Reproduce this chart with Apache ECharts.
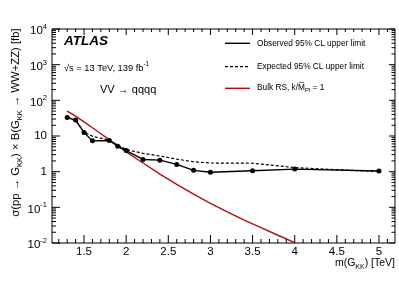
<!DOCTYPE html>
<html>
<head>
<meta charset="utf-8">
<script src="https://cdn.jsdelivr.net/npm/echarts@6/dist/echarts.min.js"></script>
<style>
html,body{margin:0;padding:0;background:#fff;}
#chart{width:399px;height:286px;}
</style>
</head>
<body>
<div id="chart"></div>
<script>
// ---- data ----
const massLimit = [1.3, 1.4, 1.5, 1.6, 1.8, 1.9, 2.0, 2.2, 2.4, 2.6, 2.8, 3.0, 3.5, 4.0, 5.0];
const observed  = [33, 28, 12.6, 7.3, 7.5, 5.2, 3.9, 2.2, 2.1, 1.6, 1.09, 0.96, 1.06, 1.18, 1.04];
const expected  = [33, 27, 13, 9.8, 7.6, 5.6, 4.2, 3.25, 2.75, 2.25, 1.9, 1.75, 1.72, 1.3, 1.0];
const massTheory = [1.3, 1.4, 1.5, 1.6, 1.7, 1.8, 1.9, 2.0, 2.2, 2.4, 2.6, 2.8, 3.0, 3.2, 3.4, 3.6, 3.8, 4.0];
const theory     = [50, 36, 25, 17, 11.6, 7.9, 5.3, 3.6, 1.75, 0.85, 0.44, 0.235, 0.13, 0.075, 0.044, 0.027, 0.0165, 0.0102];
const xTickLabels = [1.5, 2, 2.5, 3, 3.5, 4, 4.5, 5];
const yDecades = [-2, -1, 0, 1, 2, 3, 4];
const legendLabels = ['Observed 95% CL upper limit', 'Expected 95% CL upper limit', '{t|Bulk RS, k/M\u0305}{sub|Pl}{t| = 1}'];

const FONT = 'Liberation Sans, Arial, Helvetica, sans-serif';
const X_MIN = 1.12, X_MAX = 5.19, Y_MIN = 0.01, Y_MAX = 10000;
const RED = '#b40f0f';

// tick positions (styling only)
const xTickPos = [];
for (let i = 12; i <= 51; i++) xTickPos.push({v: i / 10, major: i % 5 === 0});
const yTickPos = [];
for (let d = -2; d <= 4; d++) {
  yTickPos.push({v: Math.pow(10, d), major: true});
  if (d < 4) for (let k = 2; k <= 9; k++) yTickPos.push({v: k * Math.pow(10, d), major: false});
}

function pairs(xs, ys) { return xs.map((x, i) => [x, ys[i]]); }

function tickSeries(name, data) {
  return {name: name, type: 'scatter', xAxisIndex: 0, yAxisIndex: 0, data: data, symbol: 'rect',
    clip: false, silent: true, z: 6, itemStyle: {color: '#000', opacity: 1}};
}
const xBottom = xTickPos.map(t => { const L = t.major ? 8 : 4; return {value: [t.v, Y_MIN], symbolSize: [1, L], symbolOffset: [0, -L / 2]}; });
const xTop    = xTickPos.map(t => { const L = t.major ? 6 : 3; return {value: [t.v, Y_MAX], symbolSize: [1, L], symbolOffset: [0, L / 2]}; });
const yLeft   = yTickPos.map(t => { const L = t.major ? 8 : 4; return {value: [X_MIN, t.v], symbolSize: [L, 1], symbolOffset: [L / 2, 0]}; });
const yRight  = yTickPos.map(t => { const L = t.major ? 6 : 3.5; return {value: [X_MAX, t.v], symbolSize: [L, 1], symbolOffset: [-L / 2, 0]}; });

const chart = echarts.init(document.getElementById('chart'), null, {renderer: 'canvas'});

const legendY = [43.3, 66.7, 88.3];
const legendLineStyles = [
  {stroke: '#000', lineWidth: 1.4},
  {stroke: '#000', lineWidth: 1.2, lineDash: [3, 2]},
  {stroke: RED, lineWidth: 1.4}
];
const legendGraphics = [];
legendY.forEach((y, i) => {
  legendGraphics.push({type: 'line', shape: {x1: 225, y1: y, x2: 250, y2: y}, style: legendLineStyles[i], silent: true});
  legendGraphics.push({type: 'text', x: 257, y: y, style: {text: legendLabels[i], fontSize: 8.3, fontFamily: FONT, fill: '#000', align: 'left', verticalAlign: 'middle',
    rich: {t: {fontSize: 8.3, fontFamily: FONT, fill: '#000', lineHeight: 10, verticalAlign: 'top'}, sub: {fontSize: 6, fontFamily: FONT, fill: '#000', lineHeight: 10, verticalAlign: 'bottom'}}}});
});

const option = {
  animation: false,
  backgroundColor: '#fff',
  grid: {left: 52, right: 4, top: 29, bottom: 43, show: true, borderColor: '#000', borderWidth: 1, backgroundColor: 'transparent'},
  xAxis: [
    {type: 'value', min: X_MIN, max: X_MAX, show: false},
    {type: 'value', position: 'bottom', min: X_MIN, max: X_MAX,
      axisLine: {show: false, onZero: false}, axisTick: {show: false}, splitLine: {show: false},
      axisLabel: {show: true, customValues: xTickLabels, margin: 3, fontSize: 11.5, color: '#000', fontFamily: FONT, formatter: v => String(v)}}
  ],
  yAxis: [
    {type: 'log', min: Y_MIN, max: Y_MAX, logBase: 10, show: false},
    {type: 'value', position: 'left', min: -2, max: 4,
      axisLine: {show: false, onZero: false}, axisTick: {show: false}, splitLine: {show: false},
      axisLabel: {
        show: true, customValues: yDecades, margin: 5, color: '#000', fontFamily: FONT,
        formatter: v => {
          if (v === 0) return '{b|1}';
          if (v === 1) return '{b|10}';
          return '{b|10}{s|' + (v < 0 ? '-' : '') + Math.abs(v) + '}';
        },
        rich: {
          b: {fontSize: 11.5, fontFamily: FONT, color: '#000', lineHeight: 12, verticalAlign: 'bottom'},
          s: {fontSize: 7.5, fontFamily: FONT, color: '#000', lineHeight: 16, padding: [2, 0, 0, 0], verticalAlign: 'top'}
        }
      }}
  ],
  series: [
    tickSeries('tickBottom', xBottom),
    tickSeries('tickTop', xTop),
    tickSeries('tickLeft', yLeft),
    tickSeries('tickRight', yRight),
    {
      name: 'Expected 95% CL upper limit', type: 'line', xAxisIndex: 0, yAxisIndex: 0,
      data: pairs(massLimit, expected), symbol: 'none', z: 3,
      lineStyle: {color: '#000', width: 1.2, type: [3, 2]}, itemStyle: {color: '#000'}
    },
    {
      name: 'Bulk RS', type: 'line', xAxisIndex: 0, yAxisIndex: 0,
      data: pairs(massTheory, theory), symbol: 'none', z: 4, smooth: false,
      lineStyle: {color: RED, width: 1.4}, itemStyle: {color: RED}
    },
    {
      name: 'Observed 95% CL upper limit', type: 'line', xAxisIndex: 0, yAxisIndex: 0,
      data: pairs(massLimit, observed), symbol: 'circle', symbolSize: 5, z: 5,
      lineStyle: {color: '#000', width: 1.4}, itemStyle: {color: '#000'}
    }
  ],
  graphic: legendGraphics.concat([
    {type: 'text', x: 64, y: 41, style: {text: 'ATLAS', fontSize: 13.5, fontWeight: 'bold', fontStyle: 'italic', fontFamily: FONT, fill: '#000', align: 'left', verticalAlign: 'middle'}},
    {type: 'text', x: 64, y: 67, style: {text: '{t|\u221As = 13 TeV, 139 fb}{sup|-1}', fontFamily: FONT, fill: '#000', align: 'left', verticalAlign: 'middle',
      rich: {t: {fontSize: 9.3, fontFamily: FONT, fill: '#000', lineHeight: 12, verticalAlign: 'bottom'}, sup: {fontSize: 6.5, fontFamily: FONT, fill: '#000', lineHeight: 12, verticalAlign: 'top'}}}},
    {type: 'text', x: 100, y: 89.5, style: {text: 'VV \u2192 qqqq', fontSize: 11, fontFamily: FONT, fill: '#000', align: 'left', verticalAlign: 'middle'}},
    {type: 'text', x: 395, y: 264, style: {text: '{t|m(G}{sub|KK}{t|) [TeV]}', fontFamily: FONT, fill: '#000', align: 'right', verticalAlign: 'middle',
      rich: {t: {fontSize: 10.5, fontFamily: FONT, fill: '#000', lineHeight: 13, verticalAlign: 'top'}, sub: {fontSize: 7, fontFamily: FONT, fill: '#000', lineHeight: 13, verticalAlign: 'bottom'}}}},
    {type: 'text', x: 17, y: 122.5, rotation: Math.PI / 2, style: {
      text: '{t|\u03C3(pp \u2192 G}{sub|KK}{t|) \u00D7 B(G}{sub|KK}{t| \u2192 WW+ZZ) [fb]}', fontFamily: FONT, fill: '#000', align: 'center', verticalAlign: 'middle',
      rich: {t: {fontSize: 11.3, fontFamily: FONT, fill: '#000', lineHeight: 14, verticalAlign: 'top'}, sub: {fontSize: 7.5, fontFamily: FONT, fill: '#000', lineHeight: 14, verticalAlign: 'bottom'}}}}
  ])
};
chart.setOption(option);
</script>
</body>
</html>
